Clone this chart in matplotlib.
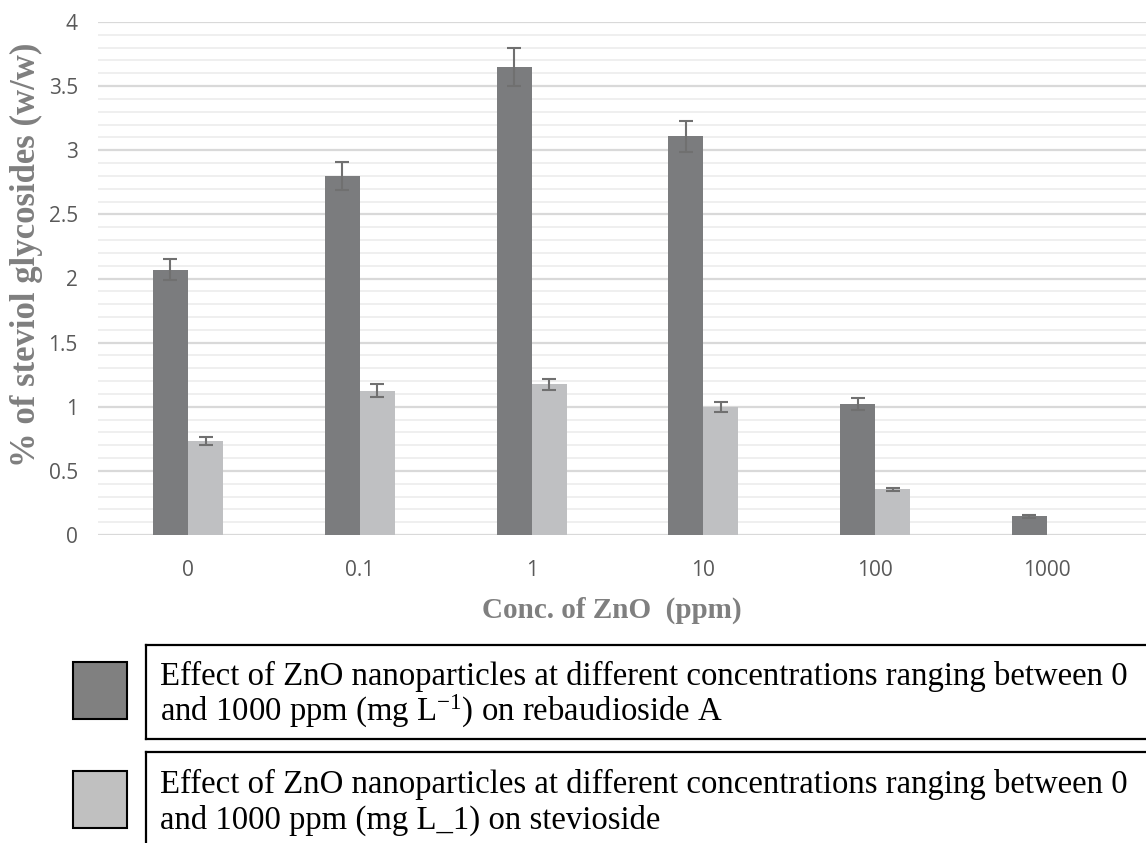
import matplotlib
matplotlib.use("Agg")
import matplotlib.pyplot as plt
import numpy as np
from matplotlib.patches import Rectangle
from matplotlib.lines import Line2D

categories = ["0", "0.1", "1", "10", "100", "1000"]
reb_a = [2.07, 2.80, 3.65, 3.11, 1.02, 0.145]
reb_a_err = [0.08, 0.11, 0.15, 0.12, 0.045, 0.01]
stevioside = [0.735, 1.125, 1.175, 1.00, 0.355, 0.0]
stevioside_err = [0.03, 0.05, 0.045, 0.04, 0.012, 0.0]
y_ticks = [0, 0.5, 1, 1.5, 2, 2.5, 3, 3.5, 4]
y_tick_labels = ["0", "0.5", "1", "1.5", "2", "2.5", "3", "3.5", "4"]
legend_labels = [
    ("Effect of ZnO nanoparticles at different concentrations ranging between 0",
     "and 1000 ppm (mg L$^{-1}$) on rebaudioside A"),
    ("Effect of ZnO nanoparticles at different concentrations ranging between 0",
     "and 1000 ppm (mg L_1) on stevioside"),
]

plt.rcParams['mathtext.fontset'] = 'custom'
plt.rcParams['mathtext.rm'] = 'Liberation Serif'
plt.rcParams['mathtext.it'] = 'Liberation Serif'

W, H = 1146, 843
fig = plt.figure(figsize=(W / 100, H / 100), dpi=100)

ax_left, ax_right = 98, 1146
ax_top, ax_bot = 22, 535
ax = fig.add_axes([ax_left / W, 1 - ax_bot / H, (ax_right - ax_left) / W, (ax_bot - ax_top) / H])

x = np.arange(len(categories))
bw = 0.204
dark = "#7b7c7e"
light = "#bfc0c2"
ecol = "#707070"

ax.bar(x - bw / 2, reb_a, bw, color=dark, zorder=3)
ax.bar(x + bw / 2, stevioside, bw, color=light, zorder=3)
ax.errorbar(x - bw / 2, reb_a, yerr=reb_a_err, fmt="none", ecolor=ecol,
            elinewidth=1.5, capsize=4.8, capthick=1.5, zorder=4)
mask = np.array(stevioside) > 0
ax.errorbar((x + bw / 2)[mask], np.array(stevioside)[mask], yerr=np.array(stevioside_err)[mask],
            fmt="none", ecolor=ecol, elinewidth=1.5, capsize=4.8, capthick=1.5, zorder=4)

px_per_cat = 171.8
c0 = 188
ax.set_xlim((ax_left - c0) / px_per_cat, (ax_right - c0) / px_per_cat)
ax.set_ylim(0, 4)

for v in np.arange(0, 4.01, 0.1):
    major = abs(v * 2 - round(v * 2)) < 1e-6
    ax.axhline(v, color="#d9d9d9" if major else "#eeeeee",
               lw=1.6 if major else 1.3, zorder=1)

for s in ax.spines.values():
    s.set_visible(False)
ax.set_yticks(y_ticks)
ax.set_yticklabels(y_tick_labels)
ax.set_xticks(x)
ax.set_xticklabels(categories)
ax.tick_params(length=0, colors="#595959", labelsize=15)
ax.tick_params(axis="y", pad=14.5)
ax.tick_params(axis="x", pad=18)
for lab in ax.get_xticklabels() + ax.get_yticklabels():
    lab.set_fontfamily("Open Sans")
    lab.set_color("#595959")

fig.text(612 / W, 1 - 610 / H, "Conc. of ZnO  (ppm)", family="Liberation Serif",
         weight="bold", color="#7f7f7f", fontsize=21, ha="center", va="center")
fig.text(26 / W, 1 - 255 / H, "% of steviol glycosides (w/w)", family="Liberation Serif",
         weight="bold", color="#7f7f7f", fontsize=25, ha="center", va="center", rotation=90)

# legend area
tr = fig.transFigure
def R(x0, y0, w, h, **kw):
    fig.patches.append(Rectangle((x0 / W, 1 - (y0 + h) / H), w / W, h / H, transform=tr, **kw))

R(73, 662, 54, 57, facecolor="#808080", edgecolor="black", lw=1.5)
R(73, 771, 54, 57, facecolor="#c0c0c0", edgecolor="black", lw=1.5)

# box 1
fig.add_artist(Line2D([146 / W, 1.0], [1 - 645 / H] * 2, transform=tr, color="black", lw=1.6))
fig.add_artist(Line2D([146 / W, 1.0], [1 - 739 / H] * 2, transform=tr, color="black", lw=1.6))
fig.add_artist(Line2D([146 / W] * 2, [1 - 645 / H, 1 - 739 / H], transform=tr, color="black", lw=1.6))
# box 2
fig.add_artist(Line2D([146 / W, 1.0], [1 - 752 / H] * 2, transform=tr, color="black", lw=1.6))
fig.add_artist(Line2D([146 / W] * 2, [1 - 752 / H, 0.0], transform=tr, color="black", lw=1.6))

for (l1, l2), yb in zip(legend_labels, [685, 793]):
    fig.text(160 / W, 1 - yb / H, l1, family="Liberation Serif", fontsize=23.6,
             color="black", ha="left", va="baseline")
    fig.text(160 / W, 1 - (yb + 36) / H, l2, family="Liberation Serif", fontsize=23.6,
             color="black", ha="left", va="baseline")

fig.savefig("out.png", dpi=100, facecolor="white")
